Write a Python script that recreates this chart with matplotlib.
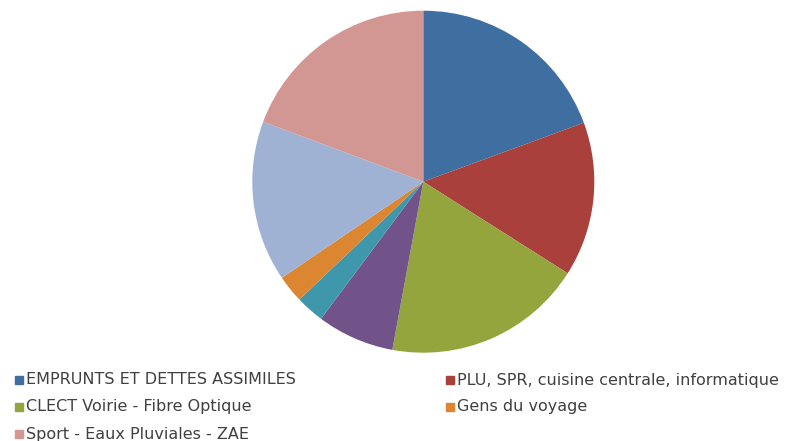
import matplotlib.pyplot as plt
from matplotlib.patches import Rectangle

# slice values (share of the total), clockwise from 12 o'clock
values = [19.4, 14.6, 18.9, 7.3, 2.7, 2.6, 15.2, 19.3]
colors = ['#3F6EA0', '#AA403C', '#93A53C', '#71538A', '#3F97AB', '#DD8631', '#9FB2D3', '#D29792']

# legend entries visible in the picture (index into the slices)
legend_labels = [
    'EMPRUNTS ET DETTES ASSIMILES',
    'PLU, SPR, cuisine centrale, informatique',
    'CLECT Voirie - Fibre Optique',
    'Gens du voyage',
    'Sport - Eaux Pluviales - ZAE',
]
legend_slices = [0, 1, 2, 5, 7]

W, H = 798, 441
fig = plt.figure(figsize=(W / 100, H / 100), dpi=100)

# pie centred at (423, 182) px, radius 171 px
cx, cy, r = 423.3, 181.7, 171
ax = fig.add_axes([(cx - r) / W, (H - cy - r) / H, 2 * r / W, 2 * r / H])
ax.pie(values, colors=colors, startangle=90, counterclock=False,
       radius=1, wedgeprops={'linewidth': 0})
ax.set_xlim(-1, 1)
ax.set_ylim(-1, 1)
ax.set_aspect('equal')
ax.axis('off')

# legend laid out in two columns, row by row, like the original
col_x = [15, 446]
row_y = [380, 407, 434]
for i, (lab, si) in enumerate(zip(legend_labels, legend_slices)):
    x = col_x[i % 2]
    y = row_y[i // 2]
    fig.patches.append(Rectangle((x / W, (H - y - 4) / H), 8 / W, 8 / H,
                                 transform=fig.transFigure, color=colors[si]))
    fig.text((x + 11) / W, (H - y) / H, lab, fontsize=11.5, color='#404040',
             va='center', ha='left', family='DejaVu Sans')

fig.savefig('out.png', dpi=100)
